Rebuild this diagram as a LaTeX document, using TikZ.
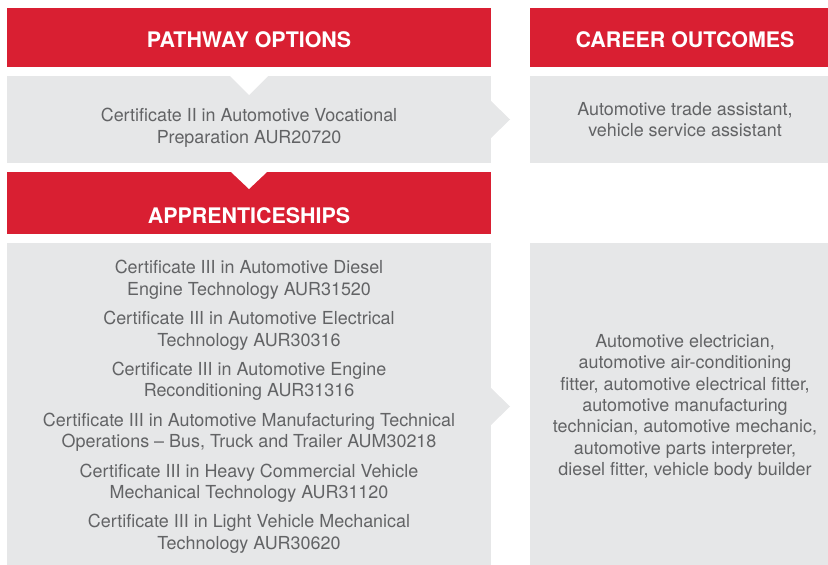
\documentclass[tikz,border=0pt]{standalone}
\usepackage{fontspec}
\setmainfont{TeX Gyre Heros}
\usetikzlibrary{positioning}
\definecolor{pathred}{HTML}{D91F32}
\definecolor{boxgray}{HTML}{E6E7E8}
\definecolor{textgray}{HTML}{626365}

\begin{document}
\begin{tikzpicture}[x=1bp, y=-1bp, node distance=9bp]
\tikzstyle{header} = [rectangle, fill=pathred, text=white, inner sep=0pt, outer sep=0pt,
    font=\fontsize{21.5}{24}\selectfont\bfseries, minimum height=59bp,
    text height=20.5bp, text depth=0pt]
\tikzstyle{panel} = [rectangle, fill=boxgray, text=textgray, inner sep=0pt, outer sep=0pt,
    align=center, font=\fontsize{18}{21.5}\selectfont]
\tikzstyle{pointer} = [fill=boxgray]
\tikzstyle{notch} = [fill=white]

\useasboundingbox (0,0) rectangle (828,565);
\clip (0,0) rectangle (828,565);

% left column
\node (hpath) [header, minimum width=484bp, anchor=north west] at (7,8) {PATHWAY OPTIONS};
\node (cert2) [panel, minimum width=484bp, minimum height=87bp, below=of hpath]
    {\rule{0pt}{30bp}Certificate II in Automotive Vocational\\ Preparation AUR20720};
\node (happ) [header, minimum width=484bp, minimum height=62bp, text height=40.5bp, below=of cert2] {APPRENTICESHIPS};
\node (cert3) [panel, minimum width=484bp, minimum height=322bp, below=of happ]
    {\rule{0pt}{19bp}Certificate III in Automotive Diesel\\ Engine Technology AUR31520\\[8bp]
     Certificate III in Automotive Electrical\\ Technology AUR30316\\[8bp]
     Certificate III in Automotive Engine\\ Reconditioning AUR31316\\[8bp]
     Certificate III in Automotive Manufacturing Technical\\ Operations -- Bus, Truck and Trailer AUM30218\\[8bp]
     Certificate III in Heavy Commercial Vehicle\\ Mechanical Technology AUR31120\\[8bp]
     Certificate III in Light Vehicle Mechanical\\ Technology AUR30620};

% right column (runs past the page edge)
\node (hcareer) [header, minimum width=310bp, anchor=north west] at (530,8) {CAREER OUTCOMES};
\node (assist) [panel, minimum width=310bp, minimum height=87bp, below=of hcareer]
    {Automotive trade assistant,\\ vehicle service assistant};
\node (trades) [panel, minimum width=310bp, minimum height=322bp, anchor=north] at (assist.south |- cert3.north)
    {\rule{0pt}{19bp}Automotive electrician,\\ automotive air-conditioning\\ fitter, automotive electrical fitter,\\
     automotive manufacturing\\ technician, automotive mechanic,\\ automotive parts interpreter,\\
     diesel fitter, vehicle body builder};

% notches and pointers
\fill[notch] (cert2.north) ++(-19,0) -- ++(19,19) -- ++(19,-19) -- cycle;
\fill[notch] (happ.north) ++(-18,0) -- ++(18,17) -- ++(18,-17) -- cycle;
\fill[pointer] (cert2.east) ++(0,-18.5) -- ++(19,18.5) -- ++(-19,18.5) -- cycle;
\fill[pointer] (cert3.east) ++(0,-16) -- ++(19,18.5) -- ++(-19,18.5) -- cycle;
\end{tikzpicture}
\end{document}
